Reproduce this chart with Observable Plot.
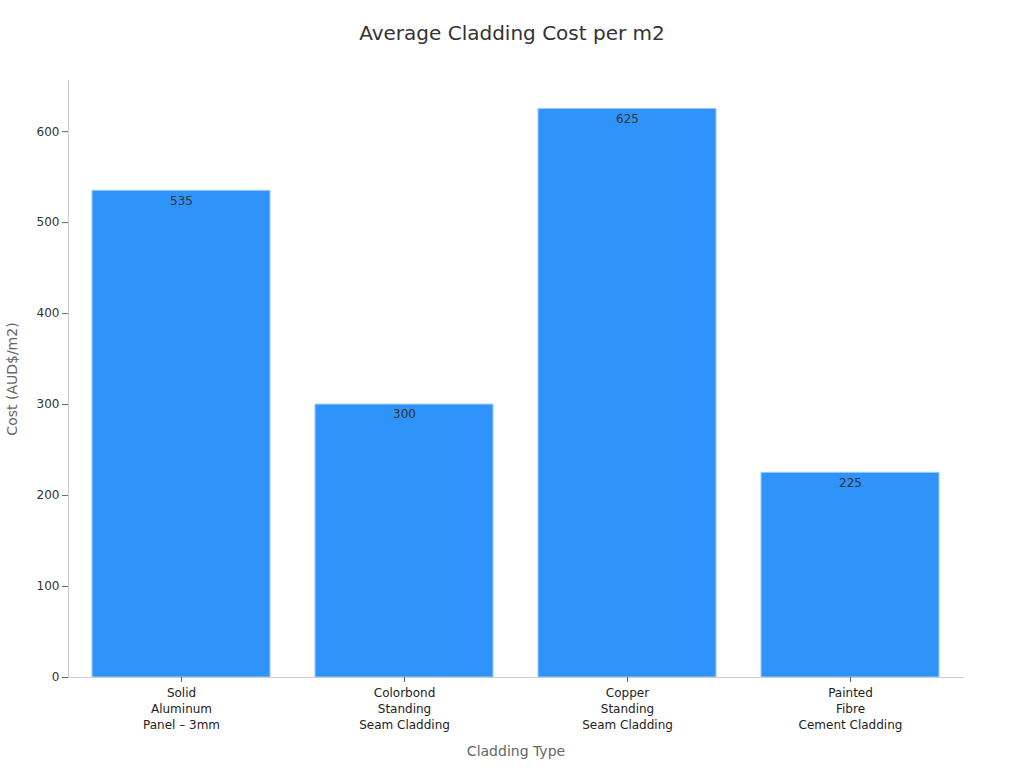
<!DOCTYPE html>
<html><head><meta charset="utf-8">
<script src="https://cdn.jsdelivr.net/npm/d3@7"></script>
<script src="https://cdn.jsdelivr.net/npm/@observablehq/plot@0.6"></script>
<style>
body{margin:0;background:#fff;font-family:"DejaVu Sans",sans-serif;}
#title{height:60px;line-height:66px;text-align:center;font-size:20px;color:#333;}
</style></head>
<body>
<div id="title">Average Cladding Cost per m2</div>
<div id="chart"></div>
<script>
const categories = ["Solid\nAluminum\nPanel – 3mm","Colorbond\nStanding\nSeam Cladding","Copper\nStanding\nSeam Cladding","Painted\nFibre\nCement Cladding"];
const costs = [535, 300, 625, 225];
const yTicks = [0,100,200,300,400,500,600];
const data = categories.map((c,i)=>({type:c, cost:costs[i]}));
const chart = Plot.plot({
  width:1024, height:708,
  marginTop:20, marginBottom:91, marginLeft:68, marginRight:61,
  style:{fontFamily:"DejaVu Sans, sans-serif", fontSize:"12px", color:"#333"},
  x:{domain:categories, paddingInner:0.2, paddingOuter:0.1, label:null},
  y:{domain:[0,656.25], label:null},
  marks:[
    Plot.barY(data,{x:"type", y:"cost", fill:"#2E93FA", stroke:"#9ccbfa", strokeWidth:1}),
    Plot.text(data,{x:"type", y:"cost", text:d=>String(d.cost), dy:10, fill:"#333", fontSize:12}),
    Plot.frame({anchor:"left", stroke:"#ccc"}),
    Plot.frame({anchor:"bottom", stroke:"#ccc"}),
    Plot.axisY({ticks:yTicks, tickSize:6, stroke:"#666", fill:"#333", fontSize:12, label:null, tickPadding:3}),
    Plot.axisX({tickSize:5, stroke:"#666", fill:"#222", fontSize:12, label:null, lineHeight:1.33, tickPadding:3}),
    Plot.text(["Cost (AUD$/m2)"],{frameAnchor:"left", textAnchor:"middle", rotate:-90, dx:-56, fill:"#666", fontSize:14}),
    Plot.text(["Cladding Type"],{frameAnchor:"bottom", dy:78, fill:"#666", fontSize:14})
  ]
});
document.getElementById("chart").appendChild(chart);
</script>
</body></html>
